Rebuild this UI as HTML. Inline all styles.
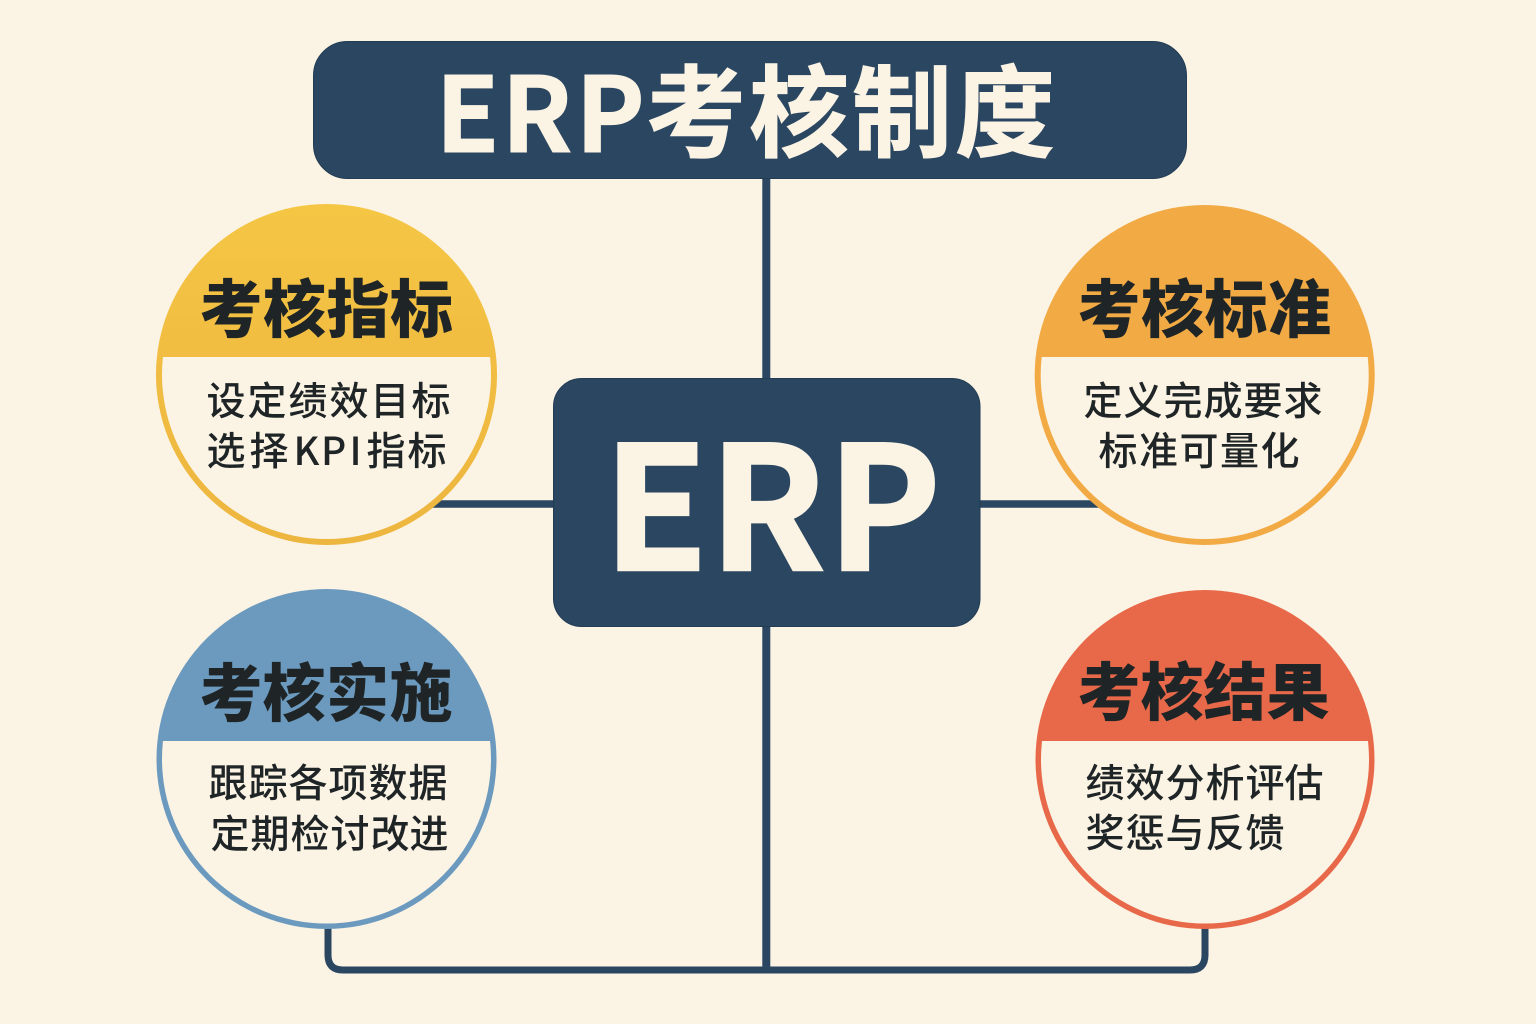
<!DOCTYPE html>
<html lang="zh">
<head>
<meta charset="utf-8">
<style>
html,body{margin:0;padding:0;background:#fbf3e4;}
svg{display:block;}
text{font-family:"Noto Sans CJK SC","Liberation Sans",sans-serif;}
</style>
</head>
<body>
<svg width="1536" height="1024" viewBox="0 0 1536 1024" xmlns="http://www.w3.org/2000/svg">
<defs>
<clipPath id="top"><rect x="0" y="357" width="1536" height="260"/></clipPath>
<clipPath id="bot"><rect x="0" y="741" width="1536" height="260"/></clipPath>
<linearGradient id="yl" gradientUnits="userSpaceOnUse" x1="0" y1="204" x2="0" y2="545">
<stop offset="0" stop-color="#f5c644"/>
<stop offset="0.45" stop-color="#f1bd42"/>
<stop offset="1" stop-color="#edb63f"/>
</linearGradient>
</defs>
<rect width="1536" height="1024" fill="#fbf3e4"/>
<g stroke="#2a4660" fill="none">
<path d="M766.3 175V968" stroke-width="8"/>
<path d="M430 504H1100" stroke-width="7.5"/>
<path d="M328 925V955Q328 970 343 970H1190Q1205 970 1205 955V925" stroke-width="7"/>
</g>
<rect x="313.5" y="41.5" width="873" height="137" rx="34" fill="#2a4660" stroke="#223c54" stroke-width="1"/>
<rect x="553.5" y="378.5" width="426.5" height="248" rx="28" fill="#2a4660" stroke="#223c54" stroke-width="1"/>

<g font-weight="700" fill="#fbf3e4" stroke="#fbf3e4">
<text y="152" font-size="104" x="435.5 501.5 575.5" stroke-width="1">ERP</text>
<text y="149" font-size="100" x="646 749 852 955" stroke-width="1">考核制度</text>
<text y="570" font-size="171" x="603 709 827" stroke-width="2.5">ERP</text>
</g>

<circle cx="326.5" cy="374.5" r="170.5" fill="url(#yl)"/>
<circle cx="326.5" cy="374.5" r="164.5" fill="#fbf3e4" clip-path="url(#top)"/>

<circle cx="1204.7" cy="375" r="170" fill="#f2aa45"/>
<circle cx="1204.7" cy="375" r="164" fill="#fbf3e4" clip-path="url(#top)"/>

<circle cx="326.5" cy="759" r="170" fill="#6c9abf"/>
<circle cx="326.5" cy="759" r="164.5" fill="#fbf3e4" clip-path="url(#bot)"/>

<circle cx="1205" cy="759.5" r="169.5" fill="#e8694a"/>
<circle cx="1205" cy="759.5" r="164" fill="#fbf3e4" clip-path="url(#bot)"/>

<g font-size="63" font-weight="900" fill="#1f2526">
<text y="332" x="199.5 263 326.5 390">考核指标</text>
<text y="332" x="1077.5 1141 1204.5 1268">考核标准</text>
<text y="716" x="199.5 262.5 326 389.5">考核实施</text>
<text y="715" x="1077.5 1140.5 1203.5 1266.5">考核结果</text>
</g>
<g font-size="39" font-weight="500" fill="#1f2526">
<text y="415" x="206.5 247.5 288.5 329.5 370.5 411.5">设定绩效目标</text>
<text y="465" x="206.5 249.5 293.5 321 349.5 366.5 407.5">选择KPI指标</text>
<text y="415" x="1083.5 1123.5 1163.5 1203.5 1243.5 1283.5">定义完成要求</text>
<text y="465" x="1098.5 1139 1179.5 1220 1260.5">标准可量化</text>
<text y="797" x="208.5 248.5 288.5 328.5 368.5 408.5">跟踪各项数据</text>
<text y="848" x="210.5 250.5 290.5 330.5 370.5 409.5">定期检讨改进</text>
<text y="797" x="1085.5 1125.5 1165.5 1205.5 1245.5 1284.5">绩效分析评估</text>
<text y="847" x="1085.5 1125.5 1165.5 1205.5 1245.5">奖惩与反馈</text>
</g>
</svg>
</body>
</html>
